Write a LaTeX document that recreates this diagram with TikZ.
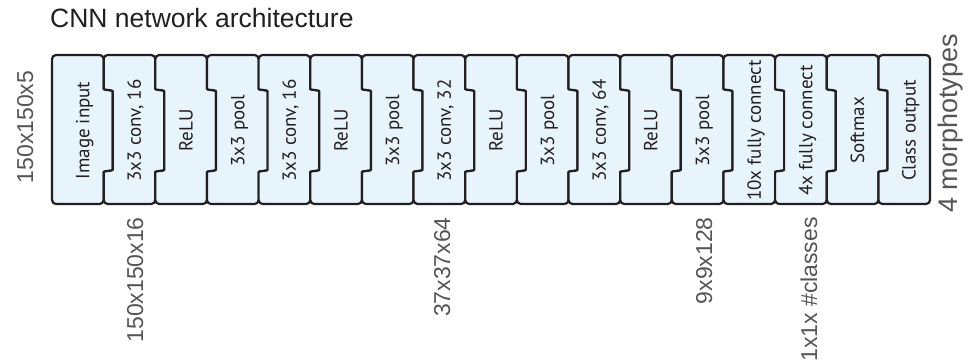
\documentclass[tikz,border=0pt]{standalone}
\usepackage{fontspec}
\setmainfont{Liberation Sans}
\newfontfamily\blockfont{PT Sans}
\definecolor{blockfill}{HTML}{E7F4FB}
\definecolor{edgeink}{HTML}{231F20}
\definecolor{labelgray}{HTML}{555555}
\definecolor{titleink}{HTML}{231F20}

% one layer block: #1 left x, #2 right x, #3 left tab (1/0), #4 right tab (1/0)
\newcommand\layerblock[4]{%
  \pgfmathsetmacro\xm{(#1+#2)/2}%
  \pgfmathsetmacro\xl{#1+9*#3}%
  \pgfmathsetmacro\xr{#2+9*#4}%
  \draw[blockshape] (\xm,55) -- (#2,55) -- (#2,85)
    .. controls (#2,90) and (\xr,90) .. (\xr,95) -- (\xr,166)
    .. controls (\xr,171) and (#2,171) .. (#2,176) -- (#2,204)
    -- (#1,204) -- (#1,176)
    .. controls (#1,171) and (\xl,171) .. (\xl,166) -- (\xl,95)
    .. controls (\xl,90) and (#1,90) .. (#1,85) -- (#1,55) -- cycle;%
}

\begin{document}
\begin{tikzpicture}[x=1pt,y=-1pt,
  blockshape/.style={draw=edgeink,fill=blockfill,line width=2.2pt,rounded corners=4pt,line join=round},
  layertext/.style={rotate=90,anchor=base,inner sep=0pt,text=edgeink,font=\blockfont\fontsize{19}{21}\selectfont},
  sizelabel/.style={rotate=90,inner sep=0pt,text=labelgray,font=\fontsize{23}{26}\selectfont},
  title/.style={anchor=base west,inner sep=0pt,text=titleink,font=\fontsize{26.5}{30}\selectfont}]
\useasboundingbox (0,0) rectangle (968,361);

% layer blocks, each tab reaching into the next block
\foreach \k/\txt in {1/Image input,2/{3x3 conv, 16},3/ReLU,4/3x3 pool,5/{3x3 conv, 16},6/ReLU,
  7/3x3 pool,8/{3x3 conv, 32},9/ReLU,10/3x3 pool,11/{3x3 conv, 64},12/ReLU,13/3x3 pool,
  14/10x fully connect,15/4x fully connect,16/Softmax,17/Class output}{
  \pgfmathsetmacro\lx{52+51.65*(\k-1)}
  \pgfmathsetmacro\rx{\lx+51.65}
  \pgfmathtruncatemacro\lt{\k>1}
  \pgfmathtruncatemacro\rt{\k<17}
  \layerblock{\lx}{\rx}{\lt}{\rt}
  \node[layertext] (b\k) at ({(\lx+\rx)/2+11.5},130.5) {\txt};
}

\node[title] (title) at (50,28) {CNN network architecture};

\node[sizelabel,anchor=base] (inputsize) at (33,127) {150x150x5};
\node[sizelabel,anchor=base west,font=\fontsize{27}{30}\selectfont] (outputsize) at (957,213) {4 morphotypes};

\node[sizelabel,anchor=base east] (s1) at (143,217) {150x150x16};
\node[sizelabel,anchor=base east] (s2) at (450,217) {37x37x64};
\node[sizelabel,anchor=base east] (s3) at (712,217) {9x9x128};
\node[sizelabel,anchor=base east] (s4) at (817,217) {1x1x \#classes};
\end{tikzpicture}
\end{document}
